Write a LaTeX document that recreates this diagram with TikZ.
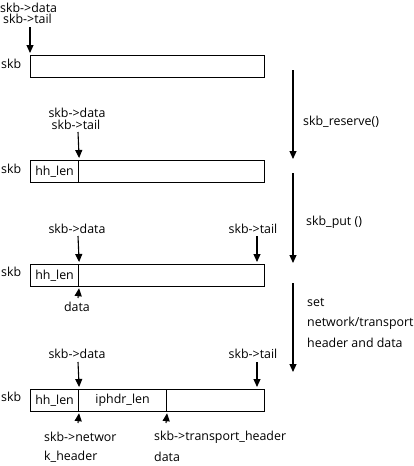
\documentclass[tikz,border=0pt]{standalone}
\usepackage{fontspec}
\setmainfont{Open Sans}
\usetikzlibrary{arrows.meta}
\begin{document}
\begin{tikzpicture}[x=1pt,y=-1pt,
  lbl/.style={inner sep=0pt, font=\fontsize{12.4}{14}\selectfont, anchor=west},
  clbl/.style={inner sep=0pt, font=\fontsize{12.4}{14}\selectfont, anchor=center},
  buf/.style={draw, line width=1.2pt, minimum width=234pt, minimum height=22pt, inner sep=0pt, anchor=north west},
  cell/.style={draw, line width=1.2pt, minimum height=22pt, inner sep=0pt, anchor=north west, font=\fontsize{12.4}{14}\selectfont},
  arr/.style={-{Triangle[length=8pt,width=7pt]}, line width=1.1pt}]
\useasboundingbox (0,0) rectangle (414,466);

% ---- buffer 1
\node[buf] (b1) at (30,55) {};
\node[lbl] (s1) at (1,64) {skb};
\node[lbl] (d1) at (0,8) {skb->data};
\node[lbl] (t1) at (3,19) {skb->tail};
\coordinate (a1) at (30,27);
\draw[arr, shorten >=2pt] (a1) -- (b1.north west);

% ---- buffer 2
\node[buf] (b2) at (30,160) {};
\node[cell, minimum width=48pt] (h2) at (30,160) {hh\_len};
\node[lbl] (s2) at (1,169) {skb};
\node[clbl] (d2) at (77,113) {skb->data};
\node[clbl] (t2) at (76,125) {skb->tail};
\coordinate (a2) at (78,132);
\draw[arr, shorten >=2pt] (a2) -- (h2.north east);

% ---- buffer 3
\node[buf] (b3) at (30,264) {};
\node[cell, minimum width=48pt] (h3) at (30,264) {hh\_len};
\node[lbl] (s3) at (1,272) {skb};
\node[clbl] (d3) at (77,229) {skb->data};
\node[clbl] (t3) at (253,229) {skb->tail};
\coordinate (a3) at (78,236);
\coordinate (a3t) at (257,236);
\coordinate (e3t) at (257,264);
\coordinate (u3) at (78,298);
\draw[arr, shorten >=2pt] (a3) -- (h3.north east);
\draw[arr, shorten >=2pt] (a3t) -- (e3t);
\node[clbl] (dd3) at (77,307) {data};
\draw[arr, shorten >=1pt] (u3) -- (h3.south east);

% ---- buffer 4
\node[buf] (b4) at (30,389) {};
\node[cell, minimum width=48pt] (h4) at (30,389) {hh\_len};
\node[cell, minimum width=88pt] (i4) at (78,389) {iphdr\_len};
\node[lbl] (s4) at (1,397) {skb};
\node[clbl] (d4) at (77,354) {skb->data};
\node[clbl] (t4) at (253,354) {skb->tail};
\coordinate (a4) at (78,362);
\coordinate (a4t) at (257,362);
\coordinate (e4t) at (257,389);
\draw[arr, shorten >=2pt] (a4) -- (h4.north east);
\draw[arr, shorten >=2pt] (a4t) -- (e4t);
\coordinate (u4a) at (78,423);
\coordinate (u4b) at (166,423);
\draw[arr, shorten >=1pt] (u4a) -- (h4.south east);
\draw[arr, shorten >=1pt] (u4b) -- (i4.south east);
\node[lbl] (n4a) at (44,437) {skb->networ};
\node[lbl] (n4b) at (44,457) {k\_header};
\node[lbl] (p4a) at (154,437) {skb->transport\_header};
\node[lbl] (p4b) at (154,457) {data};

% ---- right side operations
\coordinate (r1s) at (293,70);
\coordinate (r1e) at (293,159);
\draw[arr] (r1s) -- (r1e);
\node[lbl] (op1) at (303,122) {skb\_reserve()};
\coordinate (r2s) at (293,173);
\coordinate (r2e) at (293,263);
\draw[arr] (r2s) -- (r2e);
\node[lbl] (op2) at (306,222) {skb\_put ()};
\coordinate (r3s) at (293,283);
\coordinate (r3e) at (293,372);
\draw[arr] (r3s) -- (r3e);
\node[lbl] (op3a) at (307,302) {set};
\node[lbl] (op3b) at (307,323) {network/transport};
\node[lbl] (op3c) at (307,343) {header and data};
\end{tikzpicture}
\end{document}
